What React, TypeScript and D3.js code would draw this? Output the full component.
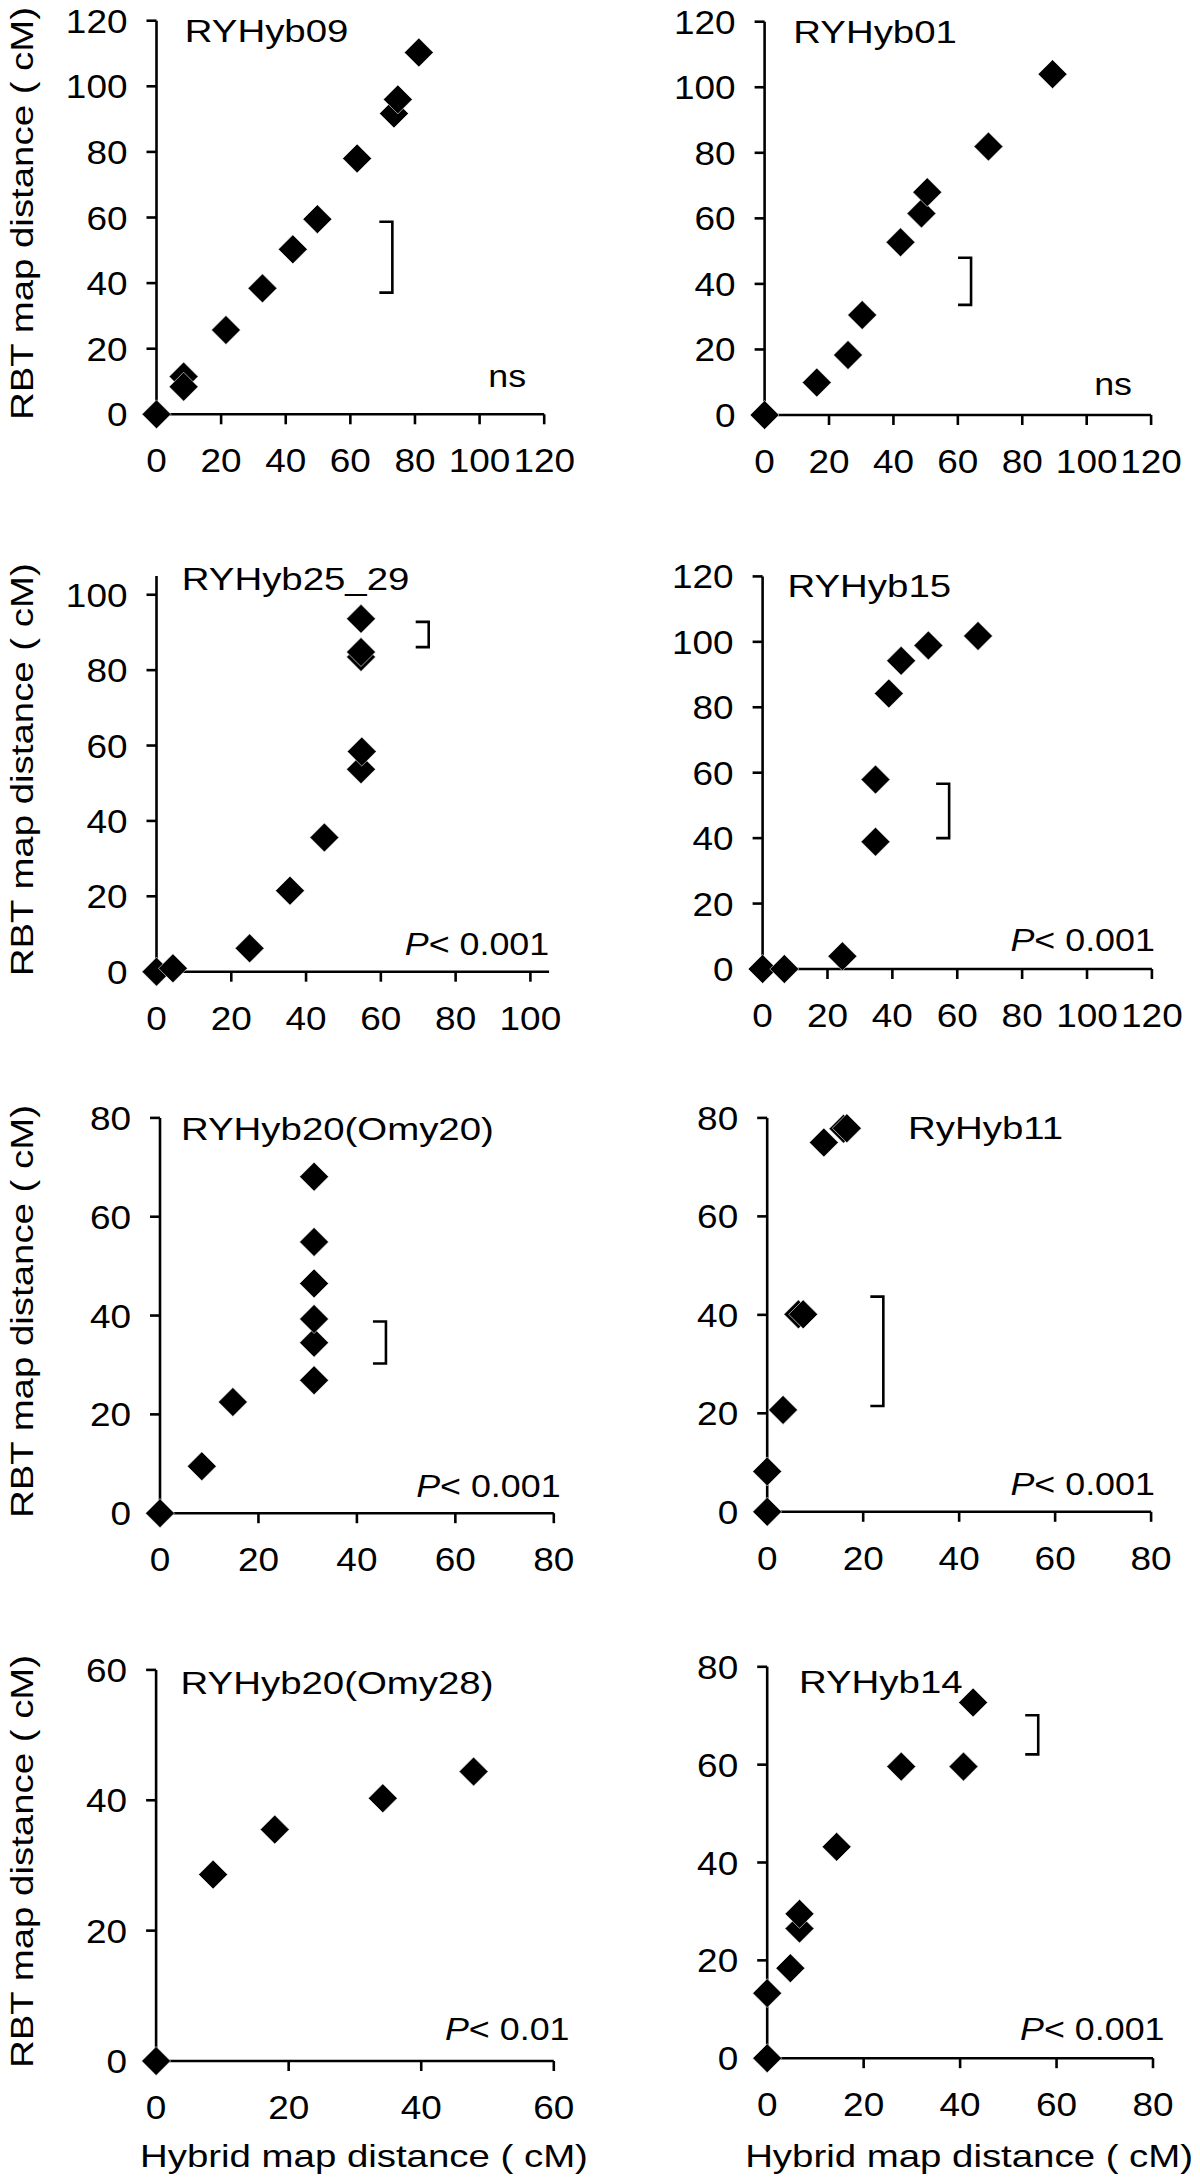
import React from "react";
import * as d3 from "d3";

const FONT = "'Liberation Sans', Arial, Helvetica, sans-serif";

// ---------- data ----------
const titles = ["RYHyb09", "RYHyb01", "RYHyb25_29", "RYHyb15", "RYHyb20(Omy20)", "RyHyb11", "RYHyb20(Omy28)", "RYHyb14"];
const notes = ["ns", "ns", "P< 0.001", "P< 0.001", "P< 0.001", "P< 0.001", "P< 0.01", "P< 0.001"];
const xMax = [120, 120, 105, 120, 80, 80, 60, 80];
const yMax = [120, 120, 105, 120, 80, 80, 60, 80];

const ticks120 = [0, 20, 40, 60, 80, 100, 120];
const ticks100 = [0, 20, 40, 60, 80, 100];
const ticks80 = [0, 20, 40, 60, 80];
const ticks60 = [0, 20, 40, 60];
const tickSets = [ticks120, ticks120, ticks100, ticks120, ticks80, ticks80, ticks60, ticks80];

const hybrid09 = [0, 8.4, 8.4, 21.5, 32.8, 42.2, 49.8, 62.1, 73.5, 74.7, 81.2];
const rbt09 = [0, 11.5, 8.4, 25.7, 38.4, 50.3, 59.5, 78.0, 91.7, 96.0, 110.3];
const hybrid01 = [0, 16.2, 25.9, 30.3, 42.2, 48.7, 50.5, 69.5, 89.4];
const rbt01 = [0, 9.9, 18.3, 30.5, 52.7, 61.5, 68.0, 81.9, 104.0];
const hybrid25 = [0, 4.4, 24.9, 35.7, 44.9, 54.7, 54.9, 54.7, 54.7, 54.7];
const rbt25 = [0, 0.9, 6.2, 21.5, 35.6, 53.7, 58.4, 83.5, 84.8, 93.6];
const hybrid15 = [0, 6.7, 24.6, 34.8, 34.8, 38.9, 42.7, 51.1, 66.4];
const rbt15 = [0, 0, 3.9, 38.9, 57.9, 84.2, 94.2, 98.9, 101.8];
const hybrid20a = [0, 8.5, 14.8, 31.3, 31.3, 31.3, 31.3, 31.3, 31.3];
const rbt20a = [0, 9.5, 22.5, 26.9, 34.5, 39.3, 46.5, 54.9, 68.1];
const hybrid11 = [0, 0, 3.3, 6.5, 7.5, 11.8, 15.9, 16.6];
const rbt11 = [0, 8.2, 20.7, 40.1, 40.1, 75.0, 77.8, 77.9];
const hybrid20b = [0, 8.6, 17.9, 34.2, 47.9];
const rbt20b = [0, 28.6, 35.5, 40.3, 44.4];
const hybrid14 = [0, 0, 4.8, 6.7, 6.7, 14.4, 27.8, 40.7, 42.7];
const rbt14 = [0, 13.3, 18.4, 26.5, 29.5, 43.2, 59.6, 59.6, 72.7];

const hybridSets = [hybrid09, hybrid01, hybrid25, hybrid15, hybrid20a, hybrid11, hybrid20b, hybrid14];
const rbtSets = [rbt09, rbt01, rbt25, rbt15, rbt20a, rbt11, rbt20b, rbt14];

const bracketX = [73, 64.1, 72.8, 57.5, 45.9, 24.2, null, 56.2];
const bracketLo = [37.1, 33.6, 86.1, 40.0, 30.3, 21.5, null, 62.1];
const bracketHi = [58.7, 48.0, 92.8, 56.6, 38.8, 43.7, null, 70.1];

const yLabel = "RBT map distance ( cM)";
const xLabel = "Hybrid map distance ( cM)";

// ---------- layout (pixels) ----------
const layout = [
  { x0: 156.5, x1: 544.2, y0: 414.3, y1: 20.7, tx: 184.8, ty: 41.7, nx: 526.2, ny: 386.7 },
  { x0: 764.6, x1: 1151.1, y0: 415, y1: 21.7, tx: 793.3, ty: 43.3, nx: 1132, ny: 395 },
  { x0: 156.5, x1: 549.1, y0: 971.7, y1: 575.9, tx: 181.8, ty: 589.5, nx: 549.2, ny: 954.5 },
  { x0: 762.6, x1: 1151.9, y0: 969, y1: 576.4, tx: 787.5, ty: 597.1, nx: 1154.9, ny: 951 },
  { x0: 160, x1: 553.8, y0: 1513.2, y1: 1117.9, tx: 181, ty: 1140, nx: 560.6, ny: 1497 },
  { x0: 767.2, x1: 1151.1, y0: 1511.8, y1: 1117.9, tx: 908.1, ty: 1139.3, nx: 1154.9, ny: 1494.6 },
  { x0: 156.1, x1: 553.8, y0: 2061, y1: 1669.9, tx: 180.6, ty: 1694.4, nx: 569.5, ny: 2040.4 },
  { x0: 767.2, x1: 1153, y0: 2058.2, y1: 1666.8, tx: 799, ty: 1692.5, nx: 1164.5, ny: 2040.4 },
];

const FS = 32;
const TICK_FS = 33;
const TICK_SX = 1.12;
const TITLE_SX = 1.2;
const NOTE_SX = 1.12;
const LABEL_SX = 1.2;
const LW = 2.6;
const DW = 14.5;
const DH = 14.5;

function diamond(cx: number, cy: number) {
  return `M${cx},${cy - DH}L${cx + DW},${cy}L${cx},${cy + DH}L${cx - DW},${cy}Z`;
}

function Note({ text, x, y }: { text: string; x: number; y: number }) {
  const isP = text.startsWith("P");
  return (
    <text transform={`translate(${x},${y}) scale(${NOTE_SX},1)`} textAnchor="end" fontSize={FS} fontFamily={FONT} fill="#000">
      {isP ? (
        <>
          <tspan fontStyle="italic">P</tspan>
          {text.slice(1)}
        </>
      ) : (
        text
      )}
    </text>
  );
}

function Panel({ i }: { i: number }) {
  const L = layout[i];
  const x = d3.scaleLinear().domain([0, xMax[i]]).range([L.x0, L.x1]);
  const y = d3.scaleLinear().domain([0, yMax[i]]).range([L.y0, L.y1]);
  const ticks = tickSets[i];
  const hx = hybridSets[i];
  const ry = rbtSets[i];
  const bx = bracketX[i];
  const blo = bracketLo[i];
  const bhi = bracketHi[i];
  return (
    <g>
      <line x1={x(0)} x2={x(xMax[i])} y1={y(0)} y2={y(0)} stroke="#000" strokeWidth={LW} />
      <line x1={x(0)} x2={x(0)} y1={y(0)} y2={y(yMax[i])} stroke="#000" strokeWidth={LW} />
      {ticks.map((t) => (
        <g key={"xt" + t}>
          <line x1={x(t)} x2={x(t)} y1={y(0)} y2={y(0) + 10} stroke="#000" strokeWidth={LW} />
          <text
            transform={`translate(${x(t)},${y(0) + 58}) scale(${TICK_SX},1)`}
            textAnchor="middle"
            fontSize={TICK_FS}
            fontFamily={FONT}
            fill="#000"
          >
            {t}
          </text>
        </g>
      ))}
      {ticks.map((t) => (
        <g key={"yt" + t}>
          <line x1={x(0) - 10} x2={x(0)} y1={y(t)} y2={y(t)} stroke="#000" strokeWidth={LW} />
          <text
            transform={`translate(${x(0) - 29},${y(t) + 12}) scale(${TICK_SX},1)`}
            textAnchor="end"
            fontSize={TICK_FS}
            fontFamily={FONT}
            fill="#000"
          >
            {t}
          </text>
        </g>
      ))}
      {bx !== null && blo !== null && bhi !== null && (
        <path
          d={`M${x(bx) - 13},${y(bhi)}H${x(bx)}V${y(blo)}H${x(bx) - 13}`}
          fill="none"
          stroke="#000"
          strokeWidth={LW}
        />
      )}
      {hx.map((v, k) => (
        <path key={"p" + k} d={diamond(x(v), y(ry[k]))} fill="#000" stroke="#fff" strokeWidth={0.6} />
      ))}
      <text transform={`translate(${L.tx},${L.ty}) scale(${TITLE_SX},1)`} fontSize={FS} fontFamily={FONT} fill="#000">
        {titles[i]}
      </text>
      <Note text={notes[i]} x={L.nx} y={L.ny} />
      {i % 2 === 0 && (
        <text
          transform={`translate(33,${(L.y0 + L.y1) / 2 - 4}) rotate(-90) scale(${LABEL_SX},1)`}
          textAnchor="middle"
          fontSize={FS}
          fontFamily={FONT}
          fill="#000"
        >
          {yLabel}
        </text>
      )}
      {i >= 6 && (
        <text
          transform={`translate(${(L.x0 + L.x1) / 2 + 9},2166.7) scale(${LABEL_SX},1)`}
          textAnchor="middle"
          fontSize={FS}
          fontFamily={FONT}
          fill="#000"
        >
          {xLabel}
        </text>
      )}
    </g>
  );
}

export default function App() {
  return (
    <svg
      width={1200}
      height={2180}
      viewBox="0 0 1200 2180"
      style={{ position: "absolute", left: 0, top: 0, display: "block", background: "#fff" }}
    >
      <rect x={0} y={0} width={1200} height={2180} fill="#fff" />
      {layout.map((_, i) => (
        <Panel key={i} i={i} />
      ))}
    </svg>
  );
}
